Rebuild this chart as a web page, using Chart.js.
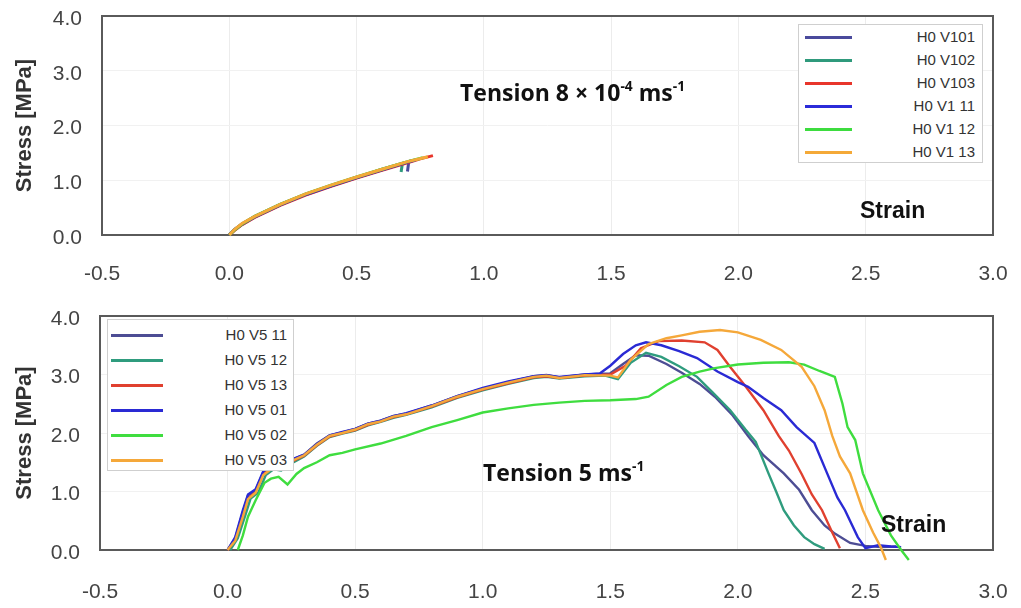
<!DOCTYPE html>
<html>
<head>
<meta charset="utf-8">
<script src="https://cdn.jsdelivr.net/npm/chart.js@4.4.1/dist/chart.umd.min.js"></script>
<style>
body { margin: 0; background: #fff; }
#page { position: relative; width: 1021px; height: 608px; overflow: hidden; font-family: "Liberation Sans", Arial, sans-serif; }
#page canvas { position: absolute; left: 0; }
.legend { position: absolute; background: #fff; border: 1px solid #cfcfcf; box-sizing: border-box; }
.legend .ln { position: absolute; height: 3px; }
.legend .lb { position: absolute; font-size: 15px; color: #333; line-height: 16px; white-space: nowrap; text-align: right; }
.note { position: absolute; font-weight: bold; color: #111; white-space: nowrap; line-height: 1; }
.note sup { font-size: 0.6em; vertical-align: 0.7em; line-height: 0; }
.tension { font-family: "Open Sans", Lato, sans-serif; font-size: 23px; }
.strain { font-family: "Liberation Sans", Arial, sans-serif; font-size: 23px; }
</style>
</head>
<body>
<div id="page">
  <canvas id="topChart" width="1021" height="300" style="top:0"></canvas>
  <canvas id="bottomChart" width="1021" height="308" style="top:300px"></canvas>
  <div class="legend" id="topLegend" style="left:798px;top:24px;width:185px;height:139px"></div>
  <div class="legend" id="bottomLegend" style="left:107px;top:319px;width:187px;height:152px"></div>
  <div class="note tension" style="left:460px;top:81px">Tension 8 × 10<sup>-4</sup> ms<sup>-1</sup></div>
  <div class="note strain" style="left:860px;top:199px">Strain</div>
  <div class="note tension" style="left:483px;top:461px">Tension 5 ms<sup>-1</sup></div>
  <div class="note strain" style="left:881px;top:513px">Strain</div>
</div>
<script>
// Stress-strain curves, tension tests

// axis ticks
const strainTicks = [-0.5, 0.0, 0.5, 1.0, 1.5, 2.0, 2.5, 3.0];
const stressTicks = [0.0, 1.0, 2.0, 3.0, 4.0];

// top panel: 8e-4 m/s, [strain, stress MPa]
const topLabels = ['H0 V101', 'H0 V102', 'H0 V103', 'H0 V1 11', 'H0 V1 12', 'H0 V1 13'];
const topColors = ['#4a4a9c', '#2f9a7c', '#e8352b', '#2b2bd9', '#3ddc3f', '#f4a938'];
const topV101 = [[0,0],[0.02,0.09],[0.05,0.19],[0.1,0.33],[0.2,0.55],[0.3,0.74],[0.4,0.9],[0.5,1.05],[0.6,1.19],[0.7,1.33],[0.705,1.34],[0.7,1.16]];
const topV102 = [[0,0],[0.02,0.1],[0.05,0.2],[0.1,0.34],[0.2,0.56],[0.3,0.74],[0.4,0.9],[0.5,1.05],[0.6,1.2],[0.68,1.31],[0.675,1.15]];
const topV103 = [[0,0],[0.02,0.08],[0.05,0.19],[0.1,0.32],[0.2,0.54],[0.3,0.73],[0.4,0.89],[0.5,1.04],[0.6,1.18],[0.7,1.32],[0.75,1.39],[0.8,1.45]];
const topV111 = [[0,0],[0.02,0.1],[0.05,0.2],[0.1,0.33],[0.2,0.55],[0.3,0.74],[0.4,0.9],[0.5,1.05],[0.6,1.19],[0.7,1.33],[0.73,1.37]];
const topV112 = [[0,0],[0.02,0.09],[0.05,0.2],[0.1,0.34],[0.2,0.56],[0.3,0.75],[0.4,0.91],[0.5,1.06],[0.6,1.2],[0.7,1.34],[0.76,1.41]];
const topV113 = [[0,0],[0.02,0.1],[0.05,0.21],[0.1,0.34],[0.2,0.56],[0.3,0.75],[0.4,0.91],[0.5,1.06],[0.6,1.2],[0.7,1.34],[0.78,1.43]];

// bottom panel: 5 m/s
const bottomLabels = ['H0 V5 11', 'H0 V5 12', 'H0 V5 13', 'H0 V5 01', 'H0 V5 02', 'H0 V5 03'];
const bottomColors = ['#4d4d94', '#2f9c7e', '#e0402f', '#2a2ad4', '#3fdd3f', '#f5a83a'];
const botV511 = [[0,0],[0.03,0.2],[0.06,0.65],[0.08,0.93],[0.11,1.02],[0.14,1.33],[0.17,1.42],[0.2,1.4],[0.24,1.52],[0.3,1.63],[0.35,1.82],[0.4,1.96],[0.45,2.01],[0.5,2.07],[0.55,2.16],[0.6,2.21],[0.65,2.29],[0.7,2.33],[0.8,2.47],[0.9,2.63],[1.0,2.76],[1.1,2.87],[1.2,2.97],[1.25,2.99],[1.3,2.95],[1.4,3.0],[1.5,3.02],[1.55,3.18],[1.6,3.33],[1.65,3.32],[1.72,3.18],[1.78,3.03],[1.85,2.84],[1.91,2.62],[1.98,2.3],[2.04,1.95],[2.1,1.62],[2.18,1.31],[2.24,1.03],[2.29,0.68],[2.34,0.42],[2.38,0.28],[2.44,0.12],[2.5,0.07],[2.56,0.05],[2.62,0.06]];
const botV512 = [[0.01,0],[0.04,0.2],[0.07,0.6],[0.09,0.88],[0.12,0.98],[0.15,1.28],[0.18,1.38],[0.21,1.36],[0.25,1.48],[0.3,1.6],[0.35,1.78],[0.4,1.93],[0.45,1.99],[0.5,2.04],[0.55,2.13],[0.6,2.19],[0.65,2.26],[0.7,2.31],[0.8,2.44],[0.9,2.6],[1.0,2.73],[1.1,2.84],[1.2,2.94],[1.25,2.96],[1.3,2.93],[1.4,2.97],[1.48,2.98],[1.53,2.92],[1.58,3.2],[1.64,3.37],[1.7,3.3],[1.77,3.14],[1.84,2.96],[1.9,2.7],[1.97,2.39],[2.03,2.06],[2.07,1.85],[2.12,1.31],[2.15,1.0],[2.18,0.68],[2.22,0.42],[2.26,0.22],[2.3,0.1],[2.34,0.02]];
const botV513 = [[0,0],[0.03,0.17],[0.06,0.58],[0.08,0.88],[0.11,0.99],[0.14,1.29],[0.17,1.39],[0.2,1.37],[0.24,1.49],[0.3,1.61],[0.35,1.79],[0.4,1.94],[0.45,2.0],[0.5,2.05],[0.55,2.14],[0.6,2.2],[0.65,2.27],[0.7,2.32],[0.8,2.45],[0.9,2.61],[1.0,2.74],[1.1,2.85],[1.2,2.95],[1.25,2.97],[1.3,2.94],[1.4,2.98],[1.5,3.0],[1.56,3.15],[1.62,3.45],[1.69,3.57],[1.78,3.58],[1.87,3.55],[1.92,3.42],[1.97,3.13],[2.03,2.8],[2.1,2.39],[2.16,1.95],[2.2,1.7],[2.25,1.3],[2.29,0.95],[2.33,0.68],[2.37,0.3],[2.4,0.03]];
const botV501 = [[0,0],[0.03,0.22],[0.06,0.68],[0.08,0.95],[0.11,1.04],[0.14,1.35],[0.17,1.43],[0.2,1.41],[0.24,1.53],[0.3,1.63],[0.35,1.81],[0.4,1.96],[0.45,2.02],[0.5,2.07],[0.55,2.16],[0.6,2.21],[0.65,2.29],[0.7,2.34],[0.8,2.47],[0.9,2.63],[1.0,2.77],[1.1,2.88],[1.2,2.97],[1.25,2.99],[1.3,2.96],[1.4,3.0],[1.46,3.02],[1.5,3.15],[1.55,3.35],[1.6,3.5],[1.64,3.55],[1.7,3.5],[1.77,3.4],[1.84,3.28],[1.92,3.05],[2.0,2.87],[2.04,2.79],[2.1,2.6],[2.17,2.39],[2.23,2.1],[2.3,1.83],[2.35,1.31],[2.39,0.9],[2.42,0.68],[2.47,0.22],[2.5,0.03],[2.55,0.08],[2.6,0.06],[2.64,0.05]];
const botV502 = [[0.04,0],[0.06,0.25],[0.08,0.57],[0.11,0.85],[0.145,1.15],[0.17,1.22],[0.2,1.25],[0.235,1.12],[0.27,1.3],[0.3,1.4],[0.35,1.5],[0.4,1.62],[0.45,1.66],[0.5,1.72],[0.6,1.82],[0.7,1.95],[0.8,2.1],[0.9,2.22],[1.0,2.35],[1.1,2.42],[1.2,2.48],[1.3,2.52],[1.4,2.55],[1.5,2.56],[1.6,2.58],[1.65,2.62],[1.72,2.82],[1.78,2.96],[1.85,3.05],[1.91,3.11],[2.0,3.17],[2.1,3.2],[2.2,3.21],[2.26,3.17],[2.32,3.06],[2.38,2.96],[2.41,2.5],[2.43,2.1],[2.46,1.88],[2.49,1.31],[2.55,0.68],[2.6,0.25],[2.64,0],[2.67,-0.17]];
const botV503 = [[0,0],[0.03,0.16],[0.06,0.57],[0.08,0.87],[0.11,0.98],[0.14,1.28],[0.17,1.38],[0.2,1.37],[0.24,1.5],[0.3,1.62],[0.35,1.8],[0.4,1.95],[0.45,2.0],[0.5,2.06],[0.55,2.15],[0.6,2.2],[0.65,2.28],[0.7,2.32],[0.8,2.46],[0.9,2.62],[1.0,2.75],[1.1,2.86],[1.2,2.96],[1.25,2.98],[1.3,2.94],[1.4,2.99],[1.5,2.98],[1.53,2.95],[1.58,3.25],[1.65,3.52],[1.72,3.62],[1.78,3.67],[1.85,3.73],[1.93,3.76],[2.0,3.72],[2.09,3.59],[2.17,3.42],[2.25,3.13],[2.3,2.8],[2.34,2.39],[2.37,1.95],[2.4,1.6],[2.44,1.31],[2.49,0.68],[2.53,0.3],[2.56,0.05],[2.58,-0.17]];

const topSeries = [topV101, topV102, topV103, topV111, topV112, topV113];
const bottomSeries = [botV511, botV512, botV513, botV501, botV502, botV503];

// box round the plot area, drawn under the curves
const frameBox = {
    id: 'frameBox',
    beforeDatasetsDraw(chart) {
        const { ctx, chartArea: a } = chart;
        ctx.save();
        ctx.strokeStyle = '#5a5a5a';
        ctx.lineWidth = 2;
        ctx.strokeRect(a.left, a.top, a.right - a.left, a.bottom - a.top);
        ctx.restore();
    }
};

function buildDatasets(series, labels, colors, width) {
    return series.map((pts, i) => ({
        label: labels[i],
        data: pts.map(p => ({ x: p[0], y: p[1] })),
        borderColor: colors[i],
        borderWidth: width,
        showLine: true,
        pointRadius: 0,
        tension: 0,
        clip: false,
        order: series.length - 1 - i
    }));
}

function makeChart(id, datasets, axisWidth, axisHeight, xPad) {
    const tickFont = { family: '"Liberation Sans", Arial, sans-serif', size: 21 };
    return new Chart(document.getElementById(id), {
        type: 'scatter',
        data: { datasets },
        options: {
            responsive: false,
            animation: false,
            layout: { padding: { top: 16, right: 28, left: 0, bottom: 0 } },
            plugins: { legend: { display: false }, tooltip: { enabled: false } },
            scales: {
                x: {
                    type: 'linear',
                    min: -0.5,
                    max: 3.0,
                    afterBuildTicks: s => { s.ticks = strainTicks.map(v => ({ value: v })); },
                    // fixed height, and no extra room for the end labels
                    afterFit: s => { s.height = axisHeight; s.paddingLeft = 0; s.paddingRight = 0; },
                    ticks: { font: tickFont, color: '#444', padding: xPad, maxRotation: 0, callback: v => v.toFixed(1) },
                    grid: { color: '#ececec', drawTicks: false },
                    border: { display: false }
                },
                y: {
                    min: 0,
                    max: 4,
                    afterBuildTicks: s => { s.ticks = stressTicks.map(v => ({ value: v })); },
                    afterFit: s => { s.width = axisWidth; s.paddingTop = 0; s.paddingBottom = 0; },
                    ticks: { font: tickFont, color: '#444', padding: 20, labelOffset: 3, callback: v => v.toFixed(1) },
                    grid: { color: '#f1f1f1', drawTicks: false },
                    border: { display: false },
                    title: {
                        display: true,
                        text: 'Stress [MPa]',
                        color: '#333',
                        font: { family: '"Liberation Sans", Arial, sans-serif', size: 22, weight: 'bold' },
                        padding: { top: 12, bottom: 0 }
                    }
                }
            }
        },
        plugins: [frameBox]
    });
}

function buildLegend(boxId, labels, colors, firstRow, rowStep, lineLeft, lineWidth, textRight) {
    const box = document.getElementById(boxId);
    labels.forEach((label, i) => {
        const cy = firstRow + i * rowStep;
        const ln = document.createElement('div');
        ln.className = 'ln';
        ln.style.left = lineLeft + 'px';
        ln.style.width = lineWidth + 'px';
        ln.style.top = (cy - 1.5) + 'px';
        ln.style.background = colors[i];
        box.appendChild(ln);
        const lb = document.createElement('div');
        lb.className = 'lb';
        lb.textContent = label;
        lb.style.right = textRight + 'px';
        lb.style.top = (cy - 8) + 'px';
        box.appendChild(lb);
    });
}

makeChart('topChart', buildDatasets(topSeries, topLabels, topColors, 3), 102, 65, 27);
makeChart('bottomChart', buildDatasets(bottomSeries, bottomLabels, bottomColors, 2.4), 100, 58, 30);

buildLegend('topLegend', topLabels, topColors, 12, 23, 6, 47, 7);
buildLegend('bottomLegend', bottomLabels, bottomColors, 15, 25, 3, 52, 6);
</script>
</body>
</html>
